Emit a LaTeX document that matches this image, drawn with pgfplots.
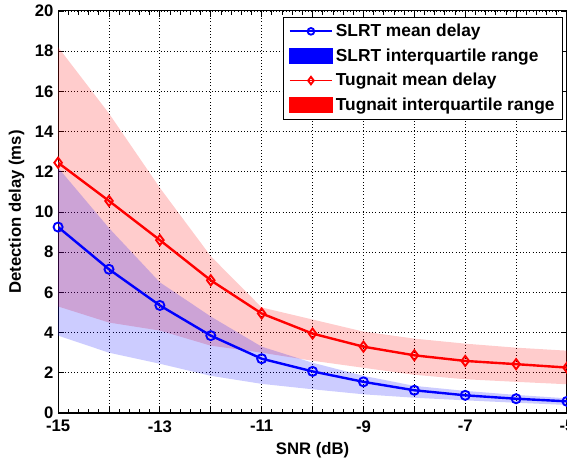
\documentclass[border=0pt]{standalone}
\usepackage{fontspec}
\setmainfont{Liberation Sans}
\usepackage{pgfplots}
\pgfplotsset{compat=1.18}
\usepgfplotslibrary{fillbetween}
\newcommand{\ff}{\fontsize{12.5}{15}\selectfont\bfseries}
\newcommand{\lf}{\fontsize{13}{15}\selectfont\bfseries}

\begin{document}
\begin{tikzpicture}[trim axis right]
\begin{axis}[scale only axis,width=381pt,height=301pt,
  xmin=-15,xmax=-5,ymin=0,ymax=20,
  xtick={-15,...,-5},xticklabels={-15,,-13,,-11,,-9,,-7,,-5},
  ytick={0,2,...,20},minor x tick num=4,
  grid=major,grid style={dotted,black,line width=0.6pt},
  axis line style={line width=0.8pt},
  tick style={black,line width=0.6pt},
  /pgf/number format/assume math mode=true,
  tick label style={font=\ff},label style={font=\ff},
  xticklabel style={yshift=-2pt},
  xlabel={SNR (dB)},ylabel={Detection delay (ms)},
  xlabel style={yshift=-1pt},
  ylabel style={yshift=1pt},
  legend style={font=\lf,at={(0.992,0.985)},anchor=north east,
    draw=black,line width=0.6pt,row sep=3.5pt,inner xsep=4pt,inner ysep=3pt,
    cells={anchor=west}},
  legend cell align=left]
% Tugnait interquartile range
\addplot[draw=none,name path=ru,forget plot] coordinates {(-15,18.2) (-14,14.9) (-13,11.2) (-12,7.8) (-11,5.25) (-10,4.65) (-9,4.05) (-8,3.7) (-7,3.45) (-6,3.25) (-5,3.1)};
\addplot[draw=none,name path=rl,forget plot] coordinates {(-15,5.3) (-14,4.5) (-13,4.1) (-12,3.35) (-11,3.0) (-10,2.6) (-9,2.25) (-8,1.9) (-7,1.68) (-6,1.55) (-5,1.43)};
\addplot[red,fill opacity=0.2,forget plot] fill between[of=ru and rl];
% SLRT interquartile range
\addplot[draw=none,name path=bu,forget plot] coordinates {(-15,12.2) (-14,9.2) (-13,6.5) (-12,4.8) (-11,3.3) (-10,2.5) (-9,1.85) (-8,1.35) (-7,1.1) (-6,0.9) (-5,0.73)};
\addplot[draw=none,name path=bl,forget plot] coordinates {(-15,3.85) (-14,3.0) (-13,2.45) (-12,1.85) (-11,1.45) (-10,1.18) (-9,0.93) (-8,0.76) (-7,0.63) (-6,0.51) (-5,0.4)};
\addplot[blue,fill opacity=0.2,forget plot] fill between[of=bu and bl];
% mean delays
\addplot[blue,line width=1.8pt,mark=o,mark size=3.4pt,mark options={line width=1.4pt},forget plot]
  coordinates {(-15,9.25) (-14,7.15) (-13,5.35) (-12,3.85) (-11,2.7) (-10,2.07) (-9,1.55) (-8,1.13) (-7,0.88) (-6,0.71) (-5,0.58)};
\addplot[red,line width=1.8pt,mark=diamond,mark size=3.8pt,mark options={line width=1.4pt},forget plot]
  coordinates {(-15,12.45) (-14,10.55) (-13,8.6) (-12,6.6) (-11,4.95) (-10,3.95) (-9,3.3) (-8,2.87) (-7,2.59) (-6,2.43) (-5,2.26)};
% legend
\addlegendimage{blue,line width=1.4pt,mark=o,mark size=2.5pt,
  legend image code/.code={\draw[mark repeat=2,mark phase=2] plot coordinates {(0cm,0cm) (0.56cm,0cm) (1.12cm,0cm)};}}
\addlegendentry{SLRT mean delay}
\addlegendimage{legend image code/.code={\fill[blue] (0cm,-0.2cm) rectangle (1.12cm,0.2cm);}}
\addlegendentry{SLRT interquartile range}
\addlegendimage{red,line width=1.4pt,mark=diamond,mark size=2.8pt,
  legend image code/.code={\draw[mark repeat=2,mark phase=2] plot coordinates {(0cm,0cm) (0.56cm,0cm) (1.12cm,0cm)};}}
\addlegendentry{Tugnait mean delay}
\addlegendimage{legend image code/.code={\fill[red] (0cm,-0.2cm) rectangle (1.12cm,0.2cm);}}
\addlegendentry{Tugnait interquartile range}
\end{axis}
\path (current axis.south west) ++(-43.5pt,-36.8pt);
\path (current axis.north west) ++(0,8.2pt);
\end{tikzpicture}
\end{document}
